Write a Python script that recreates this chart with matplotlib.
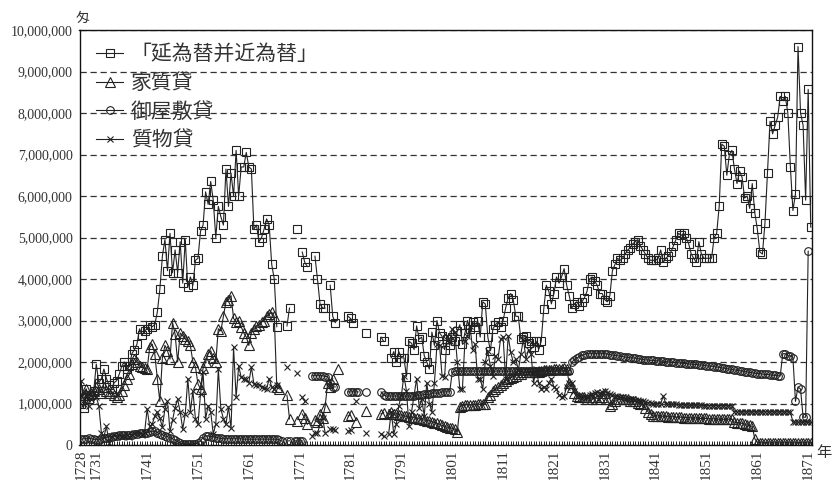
import numpy as np
import matplotlib
matplotlib.use("Agg")
import matplotlib.pyplot as plt
from matplotlib.ticker import MultipleLocator, FuncFormatter
from matplotlib.font_manager import FontProperties

n = np.nan

# half-year periods, 1728 .. 1871 (second half)
years = np.arange(1728, 1872, 0.5)

# values in millions of 匁, one row per decade (first row 1728-1729)
bills = [  # 「延為替并近為替」
    1.0, 0.9, 1.35, 1.1,
    1.2, 1.3, 1.95, 1.5, 1.6, 1.83, 1.6, 1.45, 1.35, 1.5, 1.55, 1.7, 1.9, 2.0, 1.83, 1.9, 2.2, 2.3, 2.43, 2.8,
    2.65, 2.75, 2.8, 2.9, 2.85, 2.9, 3.2, 3.75, 4.55, 4.95, 4.2, 5.1, 4.15, 4.7, 4.15, 4.9, 3.9, 4.95, 3.8, 4.05,
    3.85, 4.45, 4.5, 5.15, 5.3, 6.1, 5.8, 6.35, 5.9, 5.0, 5.75, 5.5, 5.3, 6.65, 5.75, 6.55, 6.0, 7.1, 6.0, 6.7,
    6.7, 7.05, 6.7, 6.65, 5.2, 5.3, 4.9, 5.0, 5.2, 5.45, 5.3, 4.35, 4.0, 2.85, n, n, n, 2.87, 3.3, n,
    n, 5.2, n, 4.65, 4.4, 4.3, n, n, 4.55, 4.0, 3.4, 3.3, 3.3, n, 3.85, 3.1, 2.95, n, n, n,
    n, 3.1, 3.05, 2.95, n, n, n, n, 2.7, n, n, n, n, n, 2.6, 2.5, n, n, 2.1, 2.25,
    2.0, 2.25, 2.1, 2.1, 1.65, 2.5, 2.45, 2.3, 2.87, 2.55, 2.6, 2.15, 2.0, 1.83, 2.72, 2.4, 3.0, 2.7, 2.62, 2.3,
    2.55, 2.4, 2.6, 2.5, 2.75, 2.9, 2.43, 2.7, 3.0, 2.8, 2.97, 2.85, 3.0, 2.6, 3.45, 3.4, 2.6, 2.27, 2.8, 2.9,
    2.97, 2.85, 3.0, 3.3, 3.55, 3.65, 3.5, 3.1, 3.1, 2.55, 2.6, 2.63, 2.45, 2.5, 2.35, 2.5, 2.3, 2.5, 3.28, 3.85,
    3.7, 3.4, 3.65, 4.05, 3.9, 4.05, 4.25, 3.85, 3.6, 3.3, 3.4, 3.45, 3.35, 3.45, 3.55, 3.7, 4.0, 4.05, 3.95, 3.85,
    3.65, 3.65, 3.5, 3.45, 3.6, 4.2, 4.35, 4.5, 4.45, 4.5, 4.6, 4.7, 4.75, 4.85, 4.9, 4.95, 4.8, 4.7, 4.6, 4.5,
    4.45, 4.45, 4.45, 4.5, 4.7, 4.4, 4.5, 4.55, 4.65, 4.8, 4.95, 5.1, 5.05, 5.1, 5.0, 4.85, 4.6, 4.5, 4.4, 4.9,
    4.6, 4.5, 4.5, 4.5, 4.5, 5.0, 5.1, 5.75, 7.25, 7.2, 6.5, 7.0, 7.1, 6.65, 6.3, 6.6, 6.45, 5.95, 6.0, 5.7,
    6.3, 5.6, 5.2, 4.65, 4.6, 5.35, 6.55, 7.8, 7.5, 7.7, 7.9, 8.4, 8.3, 8.4, 8.0, 6.7, 5.65, 6.05, 9.6, 8.0,
    7.7, 5.9, 8.57, 5.25,
]

house = [  # 家質貸
    1.1, 1.2, 1.35, 1.2,
    1.25, 1.3, 1.4, 1.35, 1.25, 1.4, 1.3, 1.25, 1.3, 1.2, 1.15, 1.2, 1.3, 1.45, 1.6, 1.7, 1.95, 2.07, 2.0, 1.9,
    1.88, 1.85, 1.83, 2.35, 2.43, 2.2, 1.6, 1.05, 2.1, 2.4, 2.27, 2.07, 2.95, 2.67, 2.0, 2.7, 2.63, 2.55, 2.5, 2.4,
    2.0, 1.88, 1.47, 1.35, 1.85, 2.0, 2.2, 2.27, 2.1, 2.0, 2.8, 2.75, 3.1, 3.45, 3.5, 3.6, 3.05, 2.97, 3.0, 2.85,
    2.7, 2.6, 2.4, 2.7, 2.8, 2.87, 2.9, 2.97, 3.0, 3.1, 3.15, 3.2, 3.1, 1.4, 1.35, n, n, 1.2, 0.63, n,
    n, 0.58, n, 0.75, 0.65, 0.5, n, n, 0.6, 0.55, 0.75, 0.65, 0.92, 1.5, 1.4, 1.6, n, 1.83, n, n,
    n, 0.7, 0.72, n, 0.55, n, n, n, 0.82, n, n, n, n, n, 0.75, 0.78, n, 0.75, 0.8, 0.75,
    0.75, 0.73, 0.72, 0.7, 0.69, 0.68, 0.67, 0.66, 0.64, 0.63, 0.62, 0.6, 0.59, 0.58, 0.56, 0.54, 0.52, 0.5, 0.47, 0.45,
    0.43, 0.42, 0.4, 0.38, 0.32, 0.92, 0.95, 0.97, 0.97, 0.97, 0.97, 0.97, 0.98, 0.98, 0.98, 1.0, 1.15, 1.2, 1.3, 1.35,
    1.4, 1.45, 1.5, 1.55, 1.6, 1.62, 1.65, 1.67, 1.7, 1.72, 1.75, 1.75, 1.75, 1.75, 1.75, 1.75, 1.75, 1.78, 1.8, 1.8,
    1.8, 1.8, 1.83, 1.83, 1.83, 1.83, 1.85, 1.83, 1.5, 1.4, 1.25, 1.18, 1.15, 1.15, 1.15, 1.12, 1.15, 1.1, 1.15, 1.12,
    1.1, 1.15, 1.25, 1.1, 0.95, 1.0, 1.05, 1.1, 1.1, 1.12, 1.1, 1.1, 1.05, 1.05, 1.05, 1.02, 1.0, 0.98, 0.9, 0.8,
    0.75, 0.7, 0.7, 0.7, 0.7, 0.69, 0.69, 0.68, 0.68, 0.68, 0.67, 0.67, 0.67, 0.66, 0.66, 0.66, 0.65, 0.65, 0.65, 0.64,
    0.64, 0.64, 0.64, 0.63, 0.63, 0.63, 0.62, 0.62, 0.62, 0.62, 0.62, 0.62, 0.62, 0.55, 0.54, 0.53, 0.52, 0.5, 0.48, 0.47,
    0.45, 0.15, 0.06, 0.05, 0.05, 0.05, 0.05, 0.05, 0.05, 0.05, 0.05, 0.05, 0.05, 0.05, 0.05, 0.05, 0.05, 0.05, 0.05, 0.05,
    0.05, 0.05, 0.05, 0.05,
]

daimyo = [  # 御屋敷貸
    0.14, 0.15, 0.15, 0.16,
    0.15, 0.14, 0.13, 0.12, 0.15, 0.17, 0.18, 0.2, 0.2, 0.22, 0.22, 0.23, 0.23, 0.24, 0.25, 0.25, 0.25, 0.26, 0.27, 0.28,
    0.28, 0.3, 0.3, 0.32, 0.33, 0.33, 0.3, 0.27, 0.25, 0.22, 0.2, 0.18, 0.15, 0.12, 0.08, 0.05, 0.03, 0.02, 0.02, 0.02,
    0.02, 0.03, 0.05, 0.1, 0.18, 0.22, 0.22, 0.2, 0.2, 0.18, 0.17, 0.16, 0.15, 0.15, 0.15, 0.15, 0.15, 0.15, 0.15, 0.15,
    0.14, 0.14, 0.14, 0.14, 0.14, 0.14, 0.14, 0.14, 0.14, 0.14, 0.14, 0.14, 0.14, 0.14, 0.12, 0.1, n, 0.1, 0.1, n,
    0.1, 0.1, 0.1, 0.1, n, n, n, 1.67, 1.67, 1.67, 1.67, 1.67, 1.65, 1.65, 1.5, 1.4, 1.4, n, n, n,
    n, 1.28, 1.28, 1.28, 1.28, 1.28, n, n, 1.28, n, n, n, n, n, 1.28, 1.2, 1.18, 1.18, 1.18, 1.18,
    1.18, 1.18, 1.18, 1.18, 1.18, 1.18, 1.18, 1.18, 1.2, 1.2, 1.2, 1.22, 1.22, 1.22, 1.25, 1.25, 1.25, 1.25, 1.28, 1.28,
    1.28, 1.28, 1.75, 1.78, 1.78, 1.78, 1.78, 1.78, 1.78, 1.78, 1.78, 1.78, 1.78, 1.78, 1.78, 1.78, 1.78, 1.78, 1.78, 1.78,
    1.78, 1.78, 1.78, 1.78, 1.78, 1.78, 1.78, 1.78, 1.78, 1.78, 1.78, 1.78, 1.78, 1.78, 1.78, 1.78, 1.78, 1.78, 1.78, 1.78,
    1.78, 1.78, 1.78, 1.78, 1.78, 1.78, 1.78, 1.78, 1.78, 2.0, 2.05, 2.1, 2.13, 2.16, 2.18, 2.2, 2.2, 2.2, 2.2, 2.2,
    2.2, 2.2, 2.2, 2.19, 2.18, 2.17, 2.16, 2.15, 2.14, 2.13, 2.12, 2.11, 2.1, 2.1, 2.09, 2.08, 2.07, 2.06, 2.05, 2.05,
    2.04, 2.04, 2.03, 2.03, 2.02, 2.02, 2.01, 2.0, 2.0, 1.99, 1.98, 1.98, 1.97, 1.97, 1.96, 1.95, 1.95, 1.94, 1.94, 1.93,
    1.93, 1.92, 1.91, 1.9, 1.9, 1.89, 1.88, 1.87, 1.86, 1.85, 1.84, 1.83, 1.82, 1.81, 1.8, 1.79, 1.78, 1.77, 1.76, 1.75,
    1.74, 1.73, 1.72, 1.72, 1.71, 1.7, 1.7, 1.69, 1.68, 1.68, 1.67, 1.66, 2.2, 2.2, 2.15, 2.15, 2.1, 1.05, 1.4, 1.35,
    0.67, 0.67, 4.67, n,
]

pawn = [  # 質物貸
    1.55, 1.0, 1.2, 0.95,
    1.1, 1.25, 1.15, 0.95, 0.3, 0.2, 0.45, 0.05, 0.2, 0.25, 0.2, 0.25, 0.2, 0.22, 0.25, 0.2, 0.25, 0.28, 0.3, 0.28,
    0.25, 0.3, 0.87, 0.45, 0.5, 0.7, 0.8, 0.65, 0.43, 0.87, 1.05, 0.33, 0.6, 0.9, 1.1, 0.8, 0.38, 0.75, 1.6, 0.8,
    1.3, 0.63, 0.5, 1.23, 1.75, 0.63, 0.95, 0.8, 0.27, 0.5, 1.83, 0.87, 0.63, 0.5, 0.92, 0.4, 2.35, 1.15, 1.9, 1.63,
    1.6, 1.58, 1.5, 1.88, 1.47, 1.45, 1.45, 1.4, 1.38, 1.35, 1.6, 1.4, 1.35, 1.45, n, n, n, 1.88, n, n,
    n, 1.73, n, 1.15, 1.05, n, n, 0.22, 0.3, 0.28, 0.5, 0.65, 0.3, n, 0.38, 0.38, 0.35, n, n, n,
    n, 0.33, 0.35, n, 1.05, n, n, n, 0.3, n, n, n, n, n, 0.27, 0.22, n, 0.27, 0.8, 0.27,
    0.5, 0.95, 1.2, 1.67, 1.3, 0.45, 0.8, 1.2, 1.6, 0.9, 1.1, 0.7, 1.5, 1.0, 0.8, 1.5, 2.43, 2.4, 1.67, 1.65,
    2.63, 2.5, 2.8, 2.72, 2.0, 1.35, 1.35, 2.5, 2.63, 2.87, 2.3, 2.43, 1.6, 1.6, 1.35, 2.0, 2.27, 1.9, 1.67, 2.15,
    2.07, 2.55, 2.6, 1.6, 2.63, 2.23, 2.0, 2.07, 1.8, 2.2, 2.55, 2.07, 2.3, 2.2, 1.5, 1.83, 1.5, 1.35, 1.4, 1.35,
    1.5, 1.6, 1.4, 1.35, 1.2, 1.15, 1.18, 1.4, 1.5, 1.5, 1.3, 1.18, 1.17, 1.16, 1.15, 1.15, 1.2, 1.22, 1.25, 1.28,
    1.25, 1.28, 1.3, 1.25, 1.22, 1.2, 1.18, 1.18, 1.15, 1.15, 1.12, 1.12, 1.1, 1.1, 1.08, 1.08, 1.05, 1.05, 1.03, 1.02,
    1.02, 1.0, 1.0, 1.0, 1.0, 1.18, 1.0, 0.98, 0.98, 0.98, 0.98, 0.97, 0.97, 0.97, 0.97, 0.96, 0.96, 0.96, 0.96, 0.96,
    0.96, 0.95, 0.95, 0.95, 0.95, 0.95, 0.95, 0.95, 0.95, 0.95, 0.95, 0.95, 0.95, 0.8, 0.8, 0.8, 0.8, 0.8, 0.8, 0.8,
    0.8, 0.8, 0.8, 0.8, 0.8, 0.8, 0.8, 0.8, 0.8, 0.8, 0.8, 0.8, 0.8, 0.8, 0.8, 0.8, 0.55, 0.55, 0.55, 0.55,
    0.55, 0.55, 0.55, 0.55,
]

labels = ["「延為替并近為替」", "家質貸", "御屋敷貸", "質物貸"]
tick_years = [1728, 1731, 1741, 1751, 1761, 1771, 1781, 1791, 1801, 1811, 1821, 1831, 1841, 1851, 1861, 1871]

num_font = "Liberation Serif"
jp_font = FontProperties(family=["Noto Sans CJK JP", "DejaVu Sans"], size=15)

fig = plt.figure(figsize=(8.33, 4.8), dpi=100)
ax = fig.add_axes([79.5 / 833, 35 / 480, 732.5 / 833, 415 / 480])

ink = "#222222"
series = [
    (bills, "s", 6.0),
    (house, "^", 6.5),
    (daimyo, "o", 5.5),
    (pawn, "x", 4.5),
]
for (vals, mk, ms), lab in zip(series, labels):
    ax.plot(years, vals, color=ink, lw=0.8, marker=mk, ms=ms,
            mfc="none", mec=ink, mew=0.8, label=lab)

ax.set_xlim(1727.7, 1871.75)
ax.set_ylim(0, 10)

# y axis: whole millions with comma separators
ax.set_yticks(range(0, 11))
ax.yaxis.set_major_formatter(FuncFormatter(lambda v, p: f"{int(round(v * 1_000_000)):,}"))
ax.yaxis.grid(True, linestyle=(0, (5, 3)), color="#333333", lw=0.9)
ax.set_axisbelow(True)
ax.tick_params(axis="y", length=0, pad=5)
for t in ax.get_yticklabels():
    t.set_fontfamily(num_font)
    t.set_fontsize(10)
    t.set_color("#333333")

# x axis: rotated year labels, half-year ticks pointing in
ax.set_xticks(tick_years)
ax.set_xticklabels([str(y) for y in tick_years], rotation=90, fontfamily=num_font,
                   fontsize=11, color="#333333")
ax.xaxis.set_minor_locator(MultipleLocator(0.5))
ax.tick_params(axis="x", which="both", direction="in", length=3, width=0.6, pad=3)

for s in ax.spines.values():
    s.set_linewidth(1.0)
    s.set_color("#111111")

leg = ax.legend(loc="upper left", bbox_to_anchor=(0.006, 0.998), frameon=False, prop=jp_font,
                handlelength=1.3, handletextpad=0.35, labelspacing=0.32, borderaxespad=0.2,
                numpoints=1)
for t in leg.get_texts():
    t.set_color("#333333")

fig.text(83 / 833, 1 - 18 / 480, "匁", fontproperties=FontProperties(family="Noto Sans CJK JP", size=10),
         ha="center", va="center", color="#333333")
fig.text(824 / 833, 1 - 452 / 480, "年", fontproperties=FontProperties(family="Noto Sans CJK JP", size=11),
         ha="center", va="center", color="#333333")

fig.savefig("out.png", dpi=100)
